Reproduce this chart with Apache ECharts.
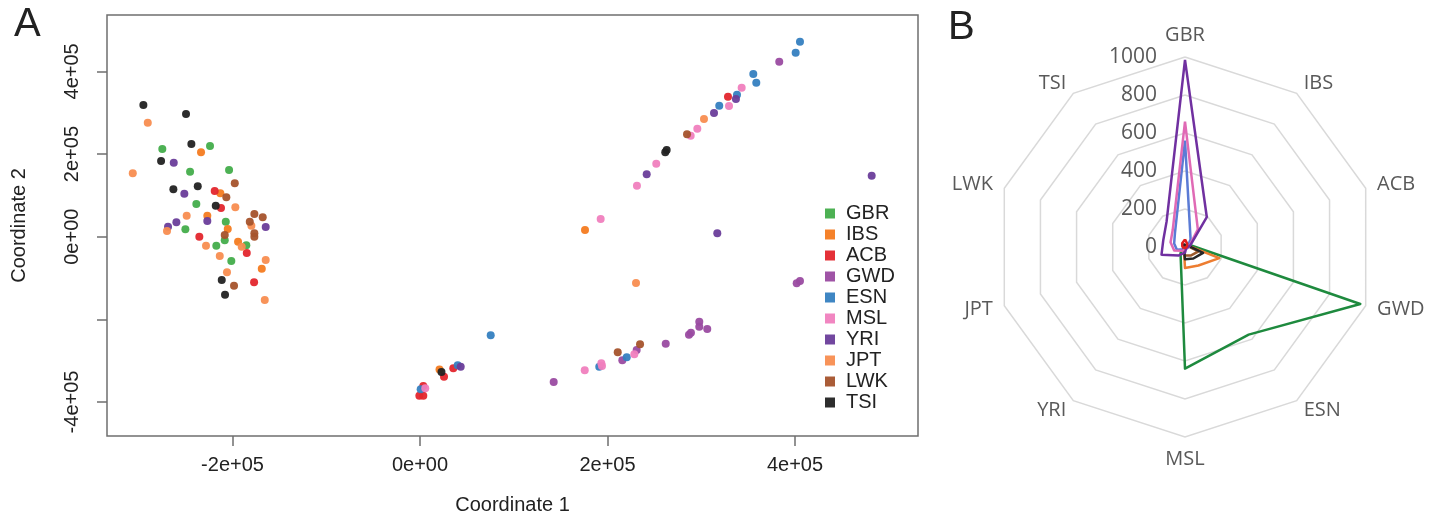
<!DOCTYPE html>
<html><head><meta charset="utf-8">
<script src="https://cdn.jsdelivr.net/npm/echarts@6/dist/echarts.min.js"></script>
<style>html,body{margin:0;padding:0;background:#fff}#c{width:1445px;height:521px}</style>
</head><body><div id="c"></div><script>
// ---------- Panel A: MDS scatter ----------
const populations = ['GBR','IBS','ACB','GWD','ESN','MSL','YRI','JPT','LWK','TSI'];
const popColors = ['#43ad4b','#f47b20','#e3262d','#9a4ba1','#3580c0','#f07fbe','#6a3d9a','#f88d50','#a5532c','#222222'];

const GBR = [[-224000,219500],[-274900,212200],[-245300,157300],[-203700,161400],[-238600,79100],[-207200,36300],[-250300,17900],[-208300,-8700],[-217300,-21800],[-185300,-20800],[-201300,-58800]];
const IBS = [[-233600,204200],[-213000,105000],[-226900,50800],[-205100,18600],[-194100,-12100],[-168800,-77400],[20800,-321400],[176000,16200]];
const ACB = [[-219000,110600],[-212300,69500],[-235400,0],[-184800,-39400],[-177000,-110300],[25600,-338800],[35500,-318500],[3500,-361300],[-700,-384800],[3500,-384800],[328500,338800]];
const GWD = [[142600,-351600],[215800,-299100],[231100,-274200],[262100,-258900],[286900,-237100],[289000,-232300],[297900,-205700],[297900,-217800],[306400,-223400],[401800,-112800],[405300,-107200],[383200,423500]];
const ESN = [[75400,-238600],[40200,-311200],[700,-369300],[191200,-314600],[220500,-291800],[405300,471900],[400700,445200],[355500,393700],[358700,372600],[338100,343600],[319200,317000]];
const MSL = [[5600,-366800],[175700,-323300],[193400,-306300],[194100,-312900],[228600,-284600],[192700,42800],[343100,360600],[329600,316300],[295800,261300],[288700,244400],[252000,176600],[231400,123400]];
const YRI = [[-262700,179100],[-251400,104100],[-226900,38000],[-164600,23500],[-259900,34800],[-268800,24200],[43400,-314600],[317100,8200],[481800,147600],[337000,333200],[313600,299300],[241800,151000]];
const JPT = [[-290400,275900],[-306400,153400],[-197000,71100],[-248900,50800],[-179900,26600],[-269900,13800],[-228300,-21800],[-190200,-24200],[-213600,-46700],[-164600,-56400],[-205900,-86100],[-165600,-153200],[230400,-112000],[302900,284800]];
const LWK = [[-197600,129200],[-206600,95300],[-176700,54900],[-167800,46900],[-181600,36300],[-176700,8200],[-176700,0],[-208300,4100],[-198400,-118600],[210900,-279700],[234700,-260400],[284800,247800]];
const TSI = [[-295100,318700],[-249600,296900],[-243900,224300],[-276200,183200],[-263100,114700],[-237100,122000],[-217900,75000],[-211500,-104800],[-208000,-140400],[22900,-327400],[261600,204200],[263100,209800]];
const popData = [GBR, IBS, ACB, GWD, ESN, MSL, YRI, JPT, LWK, TSI];

const xTickValues = [-200000, 0, 200000, 400000];
const xTickLabels = ['-2e+05', '0e+00', '2e+05', '4e+05'];
const yTickValues = [-400000, -200000, 0, 200000, 400000];
const yLabelValues = [-400000, 0, 200000, 400000];
const yTickLabels = ['-4e+05', '0e+00', '2e+05', '4e+05'];

// ---------- Panel B: radar ----------
const radarCategories = ['GBR','IBS','ACB','GWD','ESN','MSL','YRI','JPT','LWK','TSI'];
const radarTicks = [0, 200, 400, 600, 800, 1000];
const radarPurple = [985,195,30,10,10,30,55,130,120,165];
const radarPink   = [660,115,25,15,10,15,25,60,80,110];
const radarBlue   = [560,50,15,15,10,10,15,45,60,90];
const radarGreen  = [5,5,30,970,570,640,40,5,5,5];
const radarOrange = [10,10,20,190,120,110,10,10,10,10];
const radarBlack  = [15,10,20,100,75,65,10,10,10,15];
const radarBrown  = [10,10,15,75,55,45,10,10,10,10];
const radarRed    = [40,20,10,5,5,5,5,10,15,25];
const radarSeriesList = [
  {name:'S1', values: radarGreen,  color:'#1e8a3e'},
  {name:'S2', values: radarOrange, color:'#ed7d31'},
  {name:'S3', values: radarBrown,  color:'#9c5a2c'},
  {name:'S4', values: radarBlack,  color:'#262626'},
  {name:'S5', values: radarBlue,   color:'#5b7bd5'},
  {name:'S6', values: radarPink,   color:'#e06ab5'},
  {name:'S7', values: radarPurple, color:'#7030a0'},
  {name:'S8', values: radarRed,    color:'#e0201d'}
];
// ECharts radar runs counter-clockwise; reorder so categories go clockwise from top
const order = [0,9,8,7,6,5,4,3,2,1];

const axisColor = '#6f6f6f';
const fontA = 'Liberation Sans';
const fontB = 'Open Sans';

const chart = echarts.init(document.getElementById('c'), null, {renderer:'canvas'});
chart.setOption({
  backgroundColor: '#ffffff',
  animation: false,
  title: [
    {text:'A', left: 9, top: 0, textStyle:{fontSize:40, fontWeight:'normal', color:'#222', fontFamily: fontA}},
    {text:'B', left: 943, top: 3, textStyle:{fontSize:40, fontWeight:'normal', color:'#222', fontFamily: fontA}}
  ],
  legend: {
    data: populations, orient:'vertical', left: 820, top: 198,
    icon:'rect', itemWidth: 10, itemHeight: 10, itemGap: 0,
    textStyle:{fontSize:20, color:'#222', fontFamily: fontA, lineHeight: 21, padding:[0,0,0,6]},
    selectedMode: false
  },
  grid: [
    {left:107, top:15, width:811, height:421, show:true, borderColor: axisColor, borderWidth:1.5, backgroundColor:'transparent', outerBoundsMode:'none', containLabel:false},
    {left:1185, top:57, width:10, height:190, show:false, outerBoundsMode:'none', containLabel:false}
  ],
  xAxis: [
    {type:'value', gridIndex:0, min:-333900, max:531200,
     axisLine:{show:false, onZero:false},
     axisTick:{show:true, customValues: xTickValues, length:10, lineStyle:{color:axisColor, width:1.5}},
     axisLabel:{customValues: xTickValues, formatter: v => xTickLabels[xTickValues.indexOf(v)], fontSize:20, color:'#222', margin:19, fontFamily: fontA},
     splitLine:{show:false},
     name:'Coordinate 1', nameLocation:'middle', nameGap:59, nameTextStyle:{fontSize:20, color:'#222', fontFamily: fontA}},
    {type:'value', gridIndex:1, show:false, min:0, max:1}
  ],
  yAxis: [
    {type:'value', gridIndex:0, min:-482300, max:536500,
     axisLine:{show:false, onZero:false},
     axisTick:{show:true, customValues: yTickValues, length:10, lineStyle:{color:axisColor, width:1.5}},
     axisLabel:{customValues: yLabelValues, formatter: v => yTickLabels[yLabelValues.indexOf(v)], rotate:90, fontSize:20, color:'#222', margin:25, fontFamily: fontA},
     splitLine:{show:false},
     name:'Coordinate 2', nameLocation:'middle', nameGap:78, nameTextStyle:{fontSize:20, color:'#222', fontFamily: fontA}},
    {type:'value', gridIndex:1, min:0, max:1000, interval:200,
     axisLine:{show:false}, axisTick:{show:false}, splitLine:{show:false},
     axisLabel:{customValues: radarTicks, formatter: v => String(v), fontSize:21, color:'#595959', margin:28, fontFamily: fontB}}
  ],
  radar: {
    center:[1185, 247], radius:190, startAngle:90, splitNumber:5, shape:'polygon',
    indicator: order.map(i => ({name: radarCategories[i], min:0, max:1000})),
    axisName:{color:'#595959', fontSize:20, fontFamily: fontB},
    nameGap: 12,
    splitLine:{lineStyle:{color:'#d9d9d9', width:1.5}},
    splitArea:{show:false},
    axisLine:{show:false}, axisTick:{show:false}, axisLabel:{show:false}
  },
  series: populations.map((p, k) => ({
    name: p, type:'scatter', xAxisIndex:0, yAxisIndex:0,
    data: popData[k], symbol:'circle', symbolSize:8,
    itemStyle:{color: popColors[k], opacity:0.95}
  })).concat([{
    type:'radar', symbol:'none',
    data: radarSeriesList.map(s => ({
      name: s.name, value: order.map(i => s.values[i]),
      lineStyle:{color:s.color, width:2.5}, itemStyle:{color:s.color}
    }))
  }])
});
</script></body></html>
